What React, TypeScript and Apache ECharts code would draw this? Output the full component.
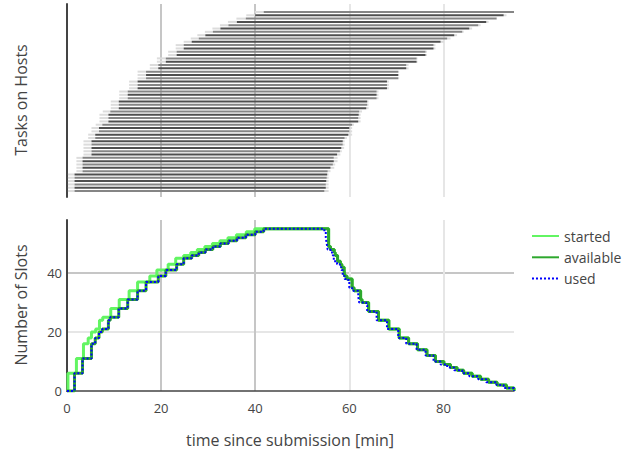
import React, { useEffect, useRef } from "react";
import * as echarts from "echarts";

// Per task/slot (row 0 = bottom row of the upper panel), times in minutes since submission
const hostStart = [
  0.2, 0.2, 0.2, 0.2, 0.2, 0.2, 2.0, 2.0, 2.0, 2.0, 2.0, 3.5, 3.5, 3.5, 3.5, 3.5,
  4.5, 4.5, 5.2, 5.2, 6.1, 6.9, 6.9, 6.9, 7.6, 9.3, 9.3, 9.3, 11.1, 11.1, 11.1,
  13.2, 13.2, 13.2, 15.0, 15.0, 15.0, 17.6, 17.6, 19.1, 19.1, 21.5, 21.5, 23.1,
  23.1, 24.8, 26.3, 27.7, 29.3, 30.9, 32.5, 34.2, 36.0, 38.1, 39.9,
];
const slotReady = [
  1.6, 1.6, 1.6, 1.6, 1.6, 1.6, 3.3, 3.3, 3.3, 3.3, 3.3, 5.2, 5.2, 5.2, 5.2, 5.2,
  6.0, 6.0, 6.8, 6.8, 7.5, 8.8, 8.8, 8.8, 9.2, 11.0, 11.0, 11.0, 12.9, 12.9, 12.9,
  15.0, 15.0, 15.0, 16.8, 16.8, 16.8, 19.4, 19.4, 21.0, 21.0, 23.3, 23.3, 24.8,
  24.8, 26.5, 28.0, 29.4, 31.0, 32.6, 34.3, 36.1, 38.0, 40.0, 41.8,
];
const taskDone = [
  54.7, 55.0, 55.0, 55.1, 55.2, 55.3, 55.4, 56.0, 56.5, 56.7, 56.7, 57.4, 58.0,
  58.3, 58.6, 58.6, 59.0, 59.8, 60.0, 60.0, 60.6, 61.9, 61.9, 62.0, 62.1, 63.6,
  63.8, 63.8, 65.8, 65.8, 65.8, 68.0, 68.0, 68.0, 70.4, 70.4, 70.4, 72.1, 72.1,
  74.3, 74.3, 76.2, 76.2, 77.9, 77.9, 79.4, 80.8, 82.3, 84.0, 85.5, 87.4, 89.1,
  91.3, 92.8, 95.0,
];
const hostEnd = [
  55.6, 55.6, 55.6, 55.6, 55.6, 55.6, 56.0, 56.8, 57.0, 57.5, 57.5, 58.1, 58.4,
  58.9, 59.0, 59.0, 59.5, 60.6, 60.6, 60.6, 61.0, 62.4, 62.4, 62.4, 62.7, 64.1,
  64.1, 64.1, 66.2, 66.2, 66.2, 68.4, 68.4, 68.4, 70.6, 70.6, 70.6, 72.6, 72.6,
  74.5, 74.5, 76.5, 76.5, 78.3, 78.3, 80.1, 81.5, 82.9, 84.3, 86.1, 87.9, 89.6,
  91.4, 93.4, 95.0,
];

const seriesNames = ["started", "available", "used"];
const xMax = 95;
const slotsMax = 58;

function stepSeries(from: number[], to: number[]) {
  const times = Array.from(new Set([0, ...from, ...to, xMax])).sort((a, b) => a - b);
  return times.map((t) => [
    t,
    from.filter((f, i) => f <= t && to[i] > t).length,
  ]);
}

const FONT = "'Open Sans', sans-serif";
const DARK_GRID = "#c6c6c6";
const LIGHT_GRID = "#e6e6e6";

export default function App() {
  const ref = useRef<HTMLDivElement>(null);
  useEffect(() => {
    if (!ref.current) return;
    const chart = echarts.init(ref.current, null, { renderer: "svg" });
    const taskRows = hostStart.map((s, i) => [i, s, slotReady[i], taskDone[i], hostEnd[i]]);
    const xSplit = {
      show: true,
      showMinLine: false,
      showMaxLine: false,
      lineStyle: { color: [DARK_GRID, DARK_GRID, LIGHT_GRID, LIGHT_GRID], width: 2 },
    };
    chart.setOption({
      animation: false,
      backgroundColor: "#fff",
      textStyle: { fontFamily: FONT },
      grid: [
        { left: 67, top: 4, width: 447, height: 193 },
        { left: 67, top: 220, width: 447, height: 171 },
      ],
      xAxis: [
        {
          gridIndex: 0,
          type: "value",
          min: 0,
          max: xMax,
          interval: 20,
          axisLine: { show: false },
          axisTick: { show: false },
          axisLabel: { show: false },
          splitLine: xSplit,
        },
        {
          gridIndex: 1,
          type: "value",
          min: 0,
          max: xMax,
          interval: 20,
          axisLine: { show: true, lineStyle: { color: "#444", width: 1.5 } },
          axisTick: { show: false },
          axisLabel: {
            color: "#444",
            fontSize: 13,
            fontFamily: FONT,
            margin: 10,
            showMaxLabel: false,
          },
          splitLine: xSplit,
        },
      ],
      yAxis: [
        {
          gridIndex: 0,
          type: "value",
          min: -1.8,
          max: 56.4,
          axisLine: { show: true, lineStyle: { color: "#444", width: 2 } },
          axisTick: { show: false },
          axisLabel: { show: false },
          splitLine: { show: false },
        },
        {
          gridIndex: 1,
          type: "value",
          min: 0,
          max: slotsMax,
          interval: 20,
          axisLine: { show: true, lineStyle: { color: "#444", width: 2 } },
          axisTick: { show: false },
          axisLabel: {
            color: "#444",
            fontSize: 13,
            fontFamily: FONT,
            margin: 5,
            showMaxLabel: false,
          },
          splitLine: {
            show: true,
            showMinLine: false,
            showMaxLine: false,
            lineStyle: { color: [LIGHT_GRID, DARK_GRID], width: 2 },
          },
        },
      ],
      legend: {
        orient: "vertical",
        left: 526,
        top: 224,
        itemWidth: 27,
        itemHeight: 14,
        itemGap: 7.3,
        data: seriesNames,
        itemStyle: { opacity: 0 },
        textStyle: { fontSize: 14, color: "#444", fontFamily: FONT, lineHeight: 14 },
      },
      series: [
        {
          type: "custom",
          xAxisIndex: 0,
          yAxisIndex: 0,
          encode: { x: [1, 2, 3, 4], y: 0 },
          data: taskRows,
          silent: true,
          renderItem: (params: any, api: any) => {
            const row = api.value(0);
            const p0 = api.coord([api.value(1), row]);
            const p1 = api.coord([api.value(2), row]);
            const p2 = api.coord([api.value(3), row]);
            const p3 = api.coord([api.value(4), row]);
            const shade = row % 2 === 0 ? "#858585" : "#4f4f4f";
            const seg = (a: number[], b: number[], color: string) => ({
              type: "line",
              shape: { x1: a[0], y1: a[1], x2: b[0], y2: b[1] },
              style: { stroke: color, lineWidth: 2 },
            });
            return {
              type: "group",
              children: [
                seg(p0, p1, "#dcdcdc"),
                seg(p2, p3, "#dcdcdc"),
                seg(p1, p2, shade),
              ],
            };
          },
        },
        {
          name: "started",
          type: "line",
          xAxisIndex: 1,
          yAxisIndex: 1,
          step: "end",
          symbol: "none",
          data: stepSeries(hostStart, hostEnd),
          lineStyle: { color: "#62f562", width: 3 },
          itemStyle: { color: "#62f562" },
          z: 3,
        },
        {
          name: "available",
          type: "line",
          xAxisIndex: 1,
          yAxisIndex: 1,
          step: "end",
          symbol: "none",
          data: stepSeries(slotReady, hostEnd),
          lineStyle: { color: "#2ea82e", width: 3 },
          itemStyle: { color: "#2ea82e" },
          z: 4,
        },
        {
          name: "used",
          type: "line",
          xAxisIndex: 1,
          yAxisIndex: 1,
          step: "end",
          symbol: "none",
          data: stepSeries(slotReady, taskDone),
          lineStyle: { color: "#0000ff", width: 2, type: [2, 2] },
          itemStyle: { color: "#0000ff" },
          z: 5,
        },
      ],
      graphic: [
        {
          type: "text",
          x: 21,
          y: 100,
          rotation: Math.PI / 2,
          style: {
            text: "Tasks on Hosts",
            font: `16px ${FONT}`,
            fill: "#444",
            align: "center",
            verticalAlign: "middle",
          },
        },
        {
          type: "text",
          x: 21,
          y: 305,
          rotation: Math.PI / 2,
          style: {
            text: "Number of Slots",
            font: `16px ${FONT}`,
            fill: "#444",
            align: "center",
            verticalAlign: "middle",
          },
        },
        {
          type: "text",
          x: 290,
          y: 440,
          style: {
            text: "time since submission [min]",
            font: `16px ${FONT}`,
            fill: "#444",
            align: "center",
            verticalAlign: "middle",
          },
        },
      ],
    });
    return () => chart.dispose();
  }, []);
  return (
    <div
      ref={ref}
      style={{ position: "fixed", left: 0, top: 0, width: 629, height: 454 }}
    />
  );
}
